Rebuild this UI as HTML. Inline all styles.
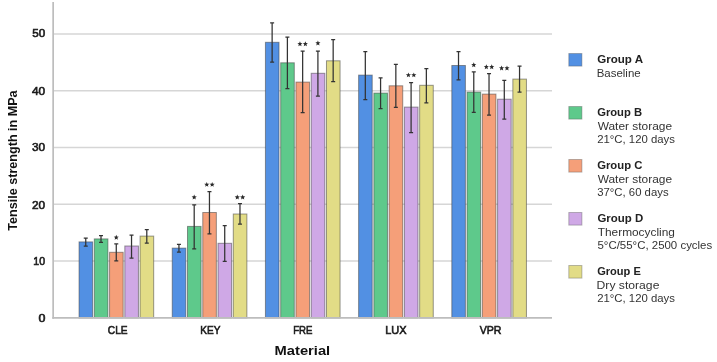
<!DOCTYPE html>
<html><head><meta charset="utf-8"><style>
html,body{margin:0;padding:0;background:#fff;width:717px;height:362px;overflow:hidden}
svg{display:block;will-change:transform}
text{font-family:"Liberation Sans",sans-serif}
.tk{font-size:11.2px;font-weight:normal;fill:#1a1a1a;stroke:#1a1a1a;stroke-width:0.6px}
.ttl{font-size:13.3px;font-weight:bold;fill:#111}
.lh{font-size:10.8px;font-weight:bold;fill:#222}
.lt{font-size:11px;fill:#333}
</style></head><body>
<svg width="717" height="362" viewBox="0 0 717 362">
<line x1="53" y1="33.9" x2="552" y2="33.9" stroke="#d6d6d6" stroke-width="1.5"/>
<line x1="53" y1="90.7" x2="552" y2="90.7" stroke="#d6d6d6" stroke-width="1.5"/>
<line x1="53" y1="147.5" x2="552" y2="147.5" stroke="#d6d6d6" stroke-width="1.5"/>
<line x1="53" y1="204.3" x2="552" y2="204.3" stroke="#d6d6d6" stroke-width="1.5"/>
<line x1="53" y1="261.1" x2="552" y2="261.1" stroke="#d6d6d6" stroke-width="1.5"/>
<rect x="79.05" y="241.90" width="13.60" height="76.05" fill="#5290e3" stroke="rgba(70,70,70,0.55)" stroke-width="1"/>
<rect x="94.31" y="238.90" width="13.60" height="79.05" fill="#5ec98b" stroke="rgba(70,70,70,0.55)" stroke-width="1"/>
<rect x="109.57" y="252.30" width="13.60" height="65.65" fill="#f59f79" stroke="rgba(70,70,70,0.55)" stroke-width="1"/>
<rect x="124.83" y="246.00" width="13.60" height="71.95" fill="#cfa8e6" stroke="rgba(70,70,70,0.55)" stroke-width="1"/>
<rect x="140.09" y="236.10" width="13.60" height="81.85" fill="#e2dc86" stroke="rgba(70,70,70,0.55)" stroke-width="1"/>
<rect x="172.24" y="248.10" width="13.60" height="69.85" fill="#5290e3" stroke="rgba(70,70,70,0.55)" stroke-width="1"/>
<rect x="187.50" y="226.40" width="13.60" height="91.55" fill="#5ec98b" stroke="rgba(70,70,70,0.55)" stroke-width="1"/>
<rect x="202.76" y="212.50" width="13.60" height="105.45" fill="#f59f79" stroke="rgba(70,70,70,0.55)" stroke-width="1"/>
<rect x="218.02" y="243.30" width="13.60" height="74.65" fill="#cfa8e6" stroke="rgba(70,70,70,0.55)" stroke-width="1"/>
<rect x="233.28" y="214.00" width="13.60" height="103.95" fill="#e2dc86" stroke="rgba(70,70,70,0.55)" stroke-width="1"/>
<rect x="265.43" y="42.30" width="13.60" height="275.65" fill="#5290e3" stroke="rgba(70,70,70,0.55)" stroke-width="1"/>
<rect x="280.69" y="62.80" width="13.60" height="255.15" fill="#5ec98b" stroke="rgba(70,70,70,0.55)" stroke-width="1"/>
<rect x="295.95" y="82.10" width="13.60" height="235.85" fill="#f59f79" stroke="rgba(70,70,70,0.55)" stroke-width="1"/>
<rect x="311.21" y="73.30" width="13.60" height="244.65" fill="#cfa8e6" stroke="rgba(70,70,70,0.55)" stroke-width="1"/>
<rect x="326.47" y="60.80" width="13.60" height="257.15" fill="#e2dc86" stroke="rgba(70,70,70,0.55)" stroke-width="1"/>
<rect x="358.62" y="75.10" width="13.60" height="242.85" fill="#5290e3" stroke="rgba(70,70,70,0.55)" stroke-width="1"/>
<rect x="373.88" y="93.10" width="13.60" height="224.85" fill="#5ec98b" stroke="rgba(70,70,70,0.55)" stroke-width="1"/>
<rect x="389.14" y="85.80" width="13.60" height="232.15" fill="#f59f79" stroke="rgba(70,70,70,0.55)" stroke-width="1"/>
<rect x="404.40" y="107.10" width="13.60" height="210.85" fill="#cfa8e6" stroke="rgba(70,70,70,0.55)" stroke-width="1"/>
<rect x="419.66" y="85.30" width="13.60" height="232.65" fill="#e2dc86" stroke="rgba(70,70,70,0.55)" stroke-width="1"/>
<rect x="451.81" y="65.50" width="13.60" height="252.45" fill="#5290e3" stroke="rgba(70,70,70,0.55)" stroke-width="1"/>
<rect x="467.07" y="92.10" width="13.60" height="225.85" fill="#5ec98b" stroke="rgba(70,70,70,0.55)" stroke-width="1"/>
<rect x="482.33" y="94.10" width="13.60" height="223.85" fill="#f59f79" stroke="rgba(70,70,70,0.55)" stroke-width="1"/>
<rect x="497.59" y="99.20" width="13.60" height="218.75" fill="#cfa8e6" stroke="rgba(70,70,70,0.55)" stroke-width="1"/>
<rect x="512.85" y="79.10" width="13.60" height="238.85" fill="#e2dc86" stroke="rgba(70,70,70,0.55)" stroke-width="1"/>
<path d="M85.75 238.2V246.2M83.75 238.2H87.75M83.75 246.2H87.75" stroke="#333" stroke-width="1.25" fill="none"/>
<path d="M101.01 235.5V242.4M99.01 235.5H103.01M99.01 242.4H103.01" stroke="#333" stroke-width="1.25" fill="none"/>
<path d="M116.27 243.8V260.9M114.27 243.8H118.27M114.27 260.9H118.27" stroke="#333" stroke-width="1.25" fill="none"/>
<polygon points="116.27,234.80 116.97,236.54 118.84,236.67 117.40,237.87 117.86,239.68 116.27,238.69 114.68,239.68 115.14,237.87 113.70,236.67 115.57,236.54" fill="#2a2a2a"/>
<path d="M131.53 235.2V258M129.53 235.2H133.53M129.53 258H133.53" stroke="#333" stroke-width="1.25" fill="none"/>
<path d="M146.79 229.7V243.2M144.79 229.7H148.79M144.79 243.2H148.79" stroke="#333" stroke-width="1.25" fill="none"/>
<path d="M178.94 244.4V252M176.94 244.4H180.94M176.94 252H180.94" stroke="#333" stroke-width="1.25" fill="none"/>
<path d="M194.20 204.8V248.8M192.20 204.8H196.20M192.20 248.8H196.20" stroke="#333" stroke-width="1.25" fill="none"/>
<polygon points="194.20,194.60 194.90,196.34 196.77,196.47 195.33,197.67 195.79,199.48 194.20,198.49 192.61,199.48 193.07,197.67 191.63,196.47 193.50,196.34" fill="#2a2a2a"/>
<path d="M209.46 191.6V233.9M207.46 191.6H211.46M207.46 233.9H211.46" stroke="#333" stroke-width="1.25" fill="none"/>
<polygon points="206.76,181.90 207.46,183.64 209.33,183.77 207.89,184.97 208.35,186.78 206.76,185.79 205.17,186.78 205.63,184.97 204.19,183.77 206.06,183.64" fill="#2a2a2a"/>
<polygon points="212.16,181.90 212.86,183.64 214.73,183.77 213.29,184.97 213.75,186.78 212.16,185.79 210.57,186.78 211.03,184.97 209.59,183.77 211.46,183.64" fill="#2a2a2a"/>
<path d="M224.72 225.5V261.4M222.72 225.5H226.72M222.72 261.4H226.72" stroke="#333" stroke-width="1.25" fill="none"/>
<path d="M239.98 203.5V224.1M237.98 203.5H241.98M237.98 224.1H241.98" stroke="#333" stroke-width="1.25" fill="none"/>
<polygon points="237.28,194.60 237.98,196.34 239.85,196.47 238.41,197.67 238.87,199.48 237.28,198.49 235.69,199.48 236.15,197.67 234.71,196.47 236.58,196.34" fill="#2a2a2a"/>
<polygon points="242.68,194.60 243.38,196.34 245.25,196.47 243.81,197.67 244.27,199.48 242.68,198.49 241.09,199.48 241.55,197.67 240.11,196.47 241.98,196.34" fill="#2a2a2a"/>
<path d="M272.13 22.8V62.1M270.13 22.8H274.13M270.13 62.1H274.13" stroke="#333" stroke-width="1.25" fill="none"/>
<path d="M287.39 37V88.5M285.39 37H289.39M285.39 88.5H289.39" stroke="#333" stroke-width="1.25" fill="none"/>
<path d="M302.65 51.1V112.5M300.65 51.1H304.65M300.65 112.5H304.65" stroke="#333" stroke-width="1.25" fill="none"/>
<polygon points="299.95,41.30 300.65,43.04 302.52,43.17 301.08,44.37 301.54,46.18 299.95,45.19 298.36,46.18 298.82,44.37 297.38,43.17 299.25,43.04" fill="#2a2a2a"/>
<polygon points="305.35,41.30 306.05,43.04 307.92,43.17 306.48,44.37 306.94,46.18 305.35,45.19 303.76,46.18 304.22,44.37 302.78,43.17 304.65,43.04" fill="#2a2a2a"/>
<path d="M317.91 51.1V96.1M315.91 51.1H319.91M315.91 96.1H319.91" stroke="#333" stroke-width="1.25" fill="none"/>
<polygon points="317.91,40.50 318.61,42.24 320.48,42.37 319.04,43.57 319.50,45.38 317.91,44.39 316.32,45.38 316.78,43.57 315.34,42.37 317.21,42.24" fill="#2a2a2a"/>
<path d="M333.17 39.5V81.5M331.17 39.5H335.17M331.17 81.5H335.17" stroke="#333" stroke-width="1.25" fill="none"/>
<path d="M365.32 51.6V99.6M363.32 51.6H367.32M363.32 99.6H367.32" stroke="#333" stroke-width="1.25" fill="none"/>
<path d="M380.58 77.8V108.5M378.58 77.8H382.58M378.58 108.5H382.58" stroke="#333" stroke-width="1.25" fill="none"/>
<path d="M395.84 64.4V107.3M393.84 64.4H397.84M393.84 107.3H397.84" stroke="#333" stroke-width="1.25" fill="none"/>
<path d="M411.10 82.5V132.7M409.10 82.5H413.10M409.10 132.7H413.10" stroke="#333" stroke-width="1.25" fill="none"/>
<polygon points="408.40,72.40 409.10,74.14 410.97,74.27 409.53,75.47 409.99,77.28 408.40,76.29 406.81,77.28 407.27,75.47 405.83,74.27 407.70,74.14" fill="#2a2a2a"/>
<polygon points="413.80,72.40 414.50,74.14 416.37,74.27 414.93,75.47 415.39,77.28 413.80,76.29 412.21,77.28 412.67,75.47 411.23,74.27 413.10,74.14" fill="#2a2a2a"/>
<path d="M426.36 68.5V102.9M424.36 68.5H428.36M424.36 102.9H428.36" stroke="#333" stroke-width="1.25" fill="none"/>
<path d="M458.51 51.6V79.8M456.51 51.6H460.51M456.51 79.8H460.51" stroke="#333" stroke-width="1.25" fill="none"/>
<path d="M473.77 71.8V112.3M471.77 71.8H475.77M471.77 112.3H475.77" stroke="#333" stroke-width="1.25" fill="none"/>
<polygon points="473.77,62.30 474.47,64.04 476.34,64.17 474.90,65.37 475.36,67.18 473.77,66.19 472.18,67.18 472.64,65.37 471.20,64.17 473.07,64.04" fill="#2a2a2a"/>
<path d="M489.03 73.5V115.1M487.03 73.5H491.03M487.03 115.1H491.03" stroke="#333" stroke-width="1.25" fill="none"/>
<polygon points="486.33,64.30 487.03,66.04 488.90,66.17 487.46,67.37 487.92,69.18 486.33,68.19 484.74,69.18 485.20,67.37 483.76,66.17 485.63,66.04" fill="#2a2a2a"/>
<polygon points="491.73,64.30 492.43,66.04 494.30,66.17 492.86,67.37 493.32,69.18 491.73,68.19 490.14,69.18 490.60,67.37 489.16,66.17 491.03,66.04" fill="#2a2a2a"/>
<path d="M504.29 80.3V119.1M502.29 80.3H506.29M502.29 119.1H506.29" stroke="#333" stroke-width="1.25" fill="none"/>
<polygon points="501.59,65.50 502.29,67.24 504.16,67.37 502.72,68.57 503.18,70.38 501.59,69.39 500.00,70.38 500.46,68.57 499.02,67.37 500.89,67.24" fill="#2a2a2a"/>
<polygon points="506.99,65.50 507.69,67.24 509.56,67.37 508.12,68.57 508.58,70.38 506.99,69.39 505.40,70.38 505.86,68.57 504.42,67.37 506.29,67.24" fill="#2a2a2a"/>
<path d="M519.55 66.2V92.2M517.55 66.2H521.55M517.55 92.2H521.55" stroke="#333" stroke-width="1.25" fill="none"/>
<line x1="53.15" y1="2" x2="53.15" y2="318.7" stroke="#bdbdbd" stroke-width="1.7"/>
<line x1="52.3" y1="317.9" x2="552" y2="317.9" stroke="#bdbdbd" stroke-width="1.6"/>
<text x="32.24" y="36.90" class="tk" textLength="12.97" lengthAdjust="spacingAndGlyphs">50</text>
<text x="31.90" y="94.80" class="tk" textLength="13.22" lengthAdjust="spacingAndGlyphs">40</text>
<text x="31.94" y="151.20" class="tk" textLength="13.18" lengthAdjust="spacingAndGlyphs">30</text>
<text x="31.94" y="208.60" class="tk" textLength="13.18" lengthAdjust="spacingAndGlyphs">20</text>
<text x="33.33" y="265.40" class="tk" textLength="11.76" lengthAdjust="spacingAndGlyphs">10</text>
<text x="38.52" y="321.90" class="tk" textLength="6.94" lengthAdjust="spacingAndGlyphs">0</text>
<text x="107.87" y="333.70" class="tk" textLength="19.77" lengthAdjust="spacingAndGlyphs">CLE</text>
<text x="200.22" y="333.70" class="tk" textLength="20.15" lengthAdjust="spacingAndGlyphs">KEY</text>
<text x="293.15" y="333.70" class="tk" textLength="19.25" lengthAdjust="spacingAndGlyphs">FRE</text>
<text x="385.26" y="333.70" class="tk" textLength="21.41" lengthAdjust="spacingAndGlyphs">LUX</text>
<text x="479.74" y="333.70" class="tk" textLength="21.78" lengthAdjust="spacingAndGlyphs">VPR</text>
<text x="274.59" y="354.60" class="ttl" textLength="55.63" lengthAdjust="spacingAndGlyphs">Material</text>
<text transform="translate(17.1 230.64) rotate(-90)" x="0" y="0" class="ttl" textLength="140.25" lengthAdjust="spacingAndGlyphs">Tensile strength in MPa</text>
<rect x="568.8" y="53.5" width="13.1" height="12.6" fill="#5290e3" stroke="rgba(90,90,90,0.4)" stroke-width="1"/>
<text x="597.16" y="63.00" class="lh" textLength="45.85" lengthAdjust="spacingAndGlyphs">Group A</text>
<text x="596.66" y="76.50" class="lt" textLength="44.02" lengthAdjust="spacingAndGlyphs">Baseline</text>
<rect x="568.8" y="106.5" width="13.1" height="12.6" fill="#5ec98b" stroke="rgba(90,90,90,0.4)" stroke-width="1"/>
<text x="597.18" y="116.00" class="lh" textLength="44.87" lengthAdjust="spacingAndGlyphs">Group B</text>
<text x="597.70" y="129.50" class="lt" textLength="74.37" lengthAdjust="spacingAndGlyphs">Water storage</text>
<text x="597.18" y="143.00" class="lt" textLength="77.77" lengthAdjust="spacingAndGlyphs">21°C, 120 days</text>
<rect x="568.8" y="159.5" width="13.1" height="12.6" fill="#f59f79" stroke="rgba(90,90,90,0.4)" stroke-width="1"/>
<text x="597.18" y="169.00" class="lh" textLength="45.18" lengthAdjust="spacingAndGlyphs">Group C</text>
<text x="597.70" y="182.50" class="lt" textLength="74.37" lengthAdjust="spacingAndGlyphs">Water storage</text>
<text x="597.18" y="196.00" class="lt" textLength="71.40" lengthAdjust="spacingAndGlyphs">37°C, 60 days</text>
<rect x="568.8" y="212.5" width="13.1" height="12.6" fill="#cfa8e6" stroke="rgba(90,90,90,0.4)" stroke-width="1"/>
<text x="597.47" y="222.00" class="lh" textLength="45.79" lengthAdjust="spacingAndGlyphs">Group D</text>
<text x="597.73" y="235.50" class="lt" textLength="77.21" lengthAdjust="spacingAndGlyphs">Thermocycling</text>
<text x="597.48" y="249.00" class="lt" textLength="114.73" lengthAdjust="spacingAndGlyphs">5°C/55°C, 2500 cycles</text>
<rect x="568.8" y="265.5" width="13.1" height="12.6" fill="#e2dc86" stroke="rgba(90,90,90,0.4)" stroke-width="1"/>
<text x="597.19" y="275.00" class="lh" textLength="43.66" lengthAdjust="spacingAndGlyphs">Group E</text>
<text x="596.60" y="288.50" class="lt" textLength="62.80" lengthAdjust="spacingAndGlyphs">Dry storage</text>
<text x="597.18" y="302.00" class="lt" textLength="77.77" lengthAdjust="spacingAndGlyphs">21°C, 120 days</text>
</svg>
</body></html>
